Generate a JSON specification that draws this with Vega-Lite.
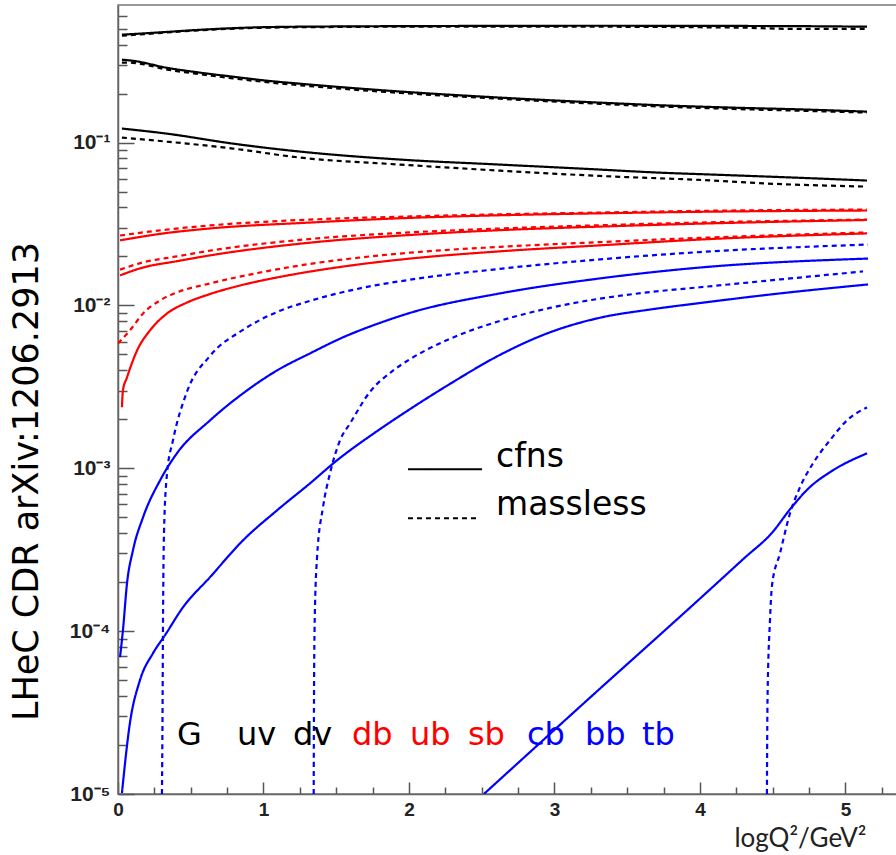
{
  "$schema": "https://vega.github.io/schema/vega-lite/v6.json",
  "width": 779,
  "height": 789,
  "autosize": {"type": "none"},
  "padding": {"left": 118, "top": 5, "right": 0, "bottom": 61},
  "background": "white",
  "config": {
    "view": {"stroke": "#777", "strokeWidth": 1.5},
    "axis": {"grid": false, "labelFlush": false, "labelOverlap": false, "labelBound": false}
  },
  "datasets": {
    "curves": [
      {"pdf": "G", "scheme": "cfns", "x": 0.027, "y": 0.460},
      {"pdf": "G", "scheme": "cfns", "x": 0.3, "y": 0.476},
      {"pdf": "G", "scheme": "cfns", "x": 0.564, "y": 0.493},
      {"pdf": "G", "scheme": "cfns", "x": 1.024, "y": 0.512},
      {"pdf": "G", "scheme": "cfns", "x": 1.5, "y": 0.517},
      {"pdf": "G", "scheme": "cfns", "x": 1.938, "y": 0.519},
      {"pdf": "G", "scheme": "cfns", "x": 2.6, "y": 0.521},
      {"pdf": "G", "scheme": "cfns", "x": 3.313, "y": 0.522},
      {"pdf": "G", "scheme": "cfns", "x": 4.0, "y": 0.521},
      {"pdf": "G", "scheme": "cfns", "x": 4.687, "y": 0.519},
      {"pdf": "G", "scheme": "cfns", "x": 5.148, "y": 0.515},
      {"pdf": "G", "scheme": "massless", "x": 0.027, "y": 0.453},
      {"pdf": "G", "scheme": "massless", "x": 0.3, "y": 0.472},
      {"pdf": "G", "scheme": "massless", "x": 0.564, "y": 0.490},
      {"pdf": "G", "scheme": "massless", "x": 1.024, "y": 0.508},
      {"pdf": "G", "scheme": "massless", "x": 1.5, "y": 0.513},
      {"pdf": "G", "scheme": "massless", "x": 1.938, "y": 0.515},
      {"pdf": "G", "scheme": "massless", "x": 2.6, "y": 0.516},
      {"pdf": "G", "scheme": "massless", "x": 3.313, "y": 0.515},
      {"pdf": "G", "scheme": "massless", "x": 4.0, "y": 0.511},
      {"pdf": "G", "scheme": "massless", "x": 4.3, "y": 0.508},
      {"pdf": "G", "scheme": "massless", "x": 4.6, "y": 0.500},
      {"pdf": "G", "scheme": "massless", "x": 5.148, "y": 0.500},
      {"pdf": "uv", "scheme": "cfns", "x": 0.027, "y": 0.323},
      {"pdf": "uv", "scheme": "cfns", "x": 0.103, "y": 0.318},
      {"pdf": "uv", "scheme": "cfns", "x": 0.337, "y": 0.288},
      {"pdf": "uv", "scheme": "cfns", "x": 0.564, "y": 0.269},
      {"pdf": "uv", "scheme": "cfns", "x": 0.79, "y": 0.254},
      {"pdf": "uv", "scheme": "cfns", "x": 1.024, "y": 0.240},
      {"pdf": "uv", "scheme": "cfns", "x": 1.251, "y": 0.230},
      {"pdf": "uv", "scheme": "cfns", "x": 1.938, "y": 0.206},
      {"pdf": "uv", "scheme": "cfns", "x": 2.625, "y": 0.189},
      {"pdf": "uv", "scheme": "cfns", "x": 3.313, "y": 0.176},
      {"pdf": "uv", "scheme": "cfns", "x": 3.773, "y": 0.169},
      {"pdf": "uv", "scheme": "cfns", "x": 4.227, "y": 0.164},
      {"pdf": "uv", "scheme": "cfns", "x": 4.687, "y": 0.160},
      {"pdf": "uv", "scheme": "cfns", "x": 5.148, "y": 0.155},
      {"pdf": "uv", "scheme": "massless", "x": 0.027, "y": 0.310},
      {"pdf": "uv", "scheme": "massless", "x": 0.103, "y": 0.309},
      {"pdf": "uv", "scheme": "massless", "x": 0.337, "y": 0.281},
      {"pdf": "uv", "scheme": "massless", "x": 0.564, "y": 0.263},
      {"pdf": "uv", "scheme": "massless", "x": 0.79, "y": 0.248},
      {"pdf": "uv", "scheme": "massless", "x": 1.024, "y": 0.235},
      {"pdf": "uv", "scheme": "massless", "x": 1.251, "y": 0.225},
      {"pdf": "uv", "scheme": "massless", "x": 1.938, "y": 0.202},
      {"pdf": "uv", "scheme": "massless", "x": 2.625, "y": 0.186},
      {"pdf": "uv", "scheme": "massless", "x": 3.313, "y": 0.173},
      {"pdf": "uv", "scheme": "massless", "x": 3.773, "y": 0.166},
      {"pdf": "uv", "scheme": "massless", "x": 4.227, "y": 0.161},
      {"pdf": "uv", "scheme": "massless", "x": 4.687, "y": 0.157},
      {"pdf": "uv", "scheme": "massless", "x": 5.148, "y": 0.153},
      {"pdf": "dv", "scheme": "cfns", "x": 0.027, "y": 0.122},
      {"pdf": "dv", "scheme": "cfns", "x": 0.337, "y": 0.1135},
      {"pdf": "dv", "scheme": "cfns", "x": 0.79, "y": 0.0986},
      {"pdf": "dv", "scheme": "cfns", "x": 1.251, "y": 0.0881},
      {"pdf": "dv", "scheme": "cfns", "x": 1.938, "y": 0.0787},
      {"pdf": "dv", "scheme": "cfns", "x": 2.625, "y": 0.0733},
      {"pdf": "dv", "scheme": "cfns", "x": 3.313, "y": 0.0683},
      {"pdf": "dv", "scheme": "cfns", "x": 3.656, "y": 0.0658},
      {"pdf": "dv", "scheme": "cfns", "x": 4.158, "y": 0.0633},
      {"pdf": "dv", "scheme": "cfns", "x": 4.687, "y": 0.0608},
      {"pdf": "dv", "scheme": "cfns", "x": 5.148, "y": 0.0585},
      {"pdf": "dv", "scheme": "massless", "x": 0.027, "y": 0.1074},
      {"pdf": "dv", "scheme": "massless", "x": 0.337, "y": 0.1014},
      {"pdf": "dv", "scheme": "massless", "x": 0.79, "y": 0.0919},
      {"pdf": "dv", "scheme": "massless", "x": 1.251, "y": 0.0809},
      {"pdf": "dv", "scheme": "massless", "x": 1.938, "y": 0.0733},
      {"pdf": "dv", "scheme": "massless", "x": 2.625, "y": 0.0673},
      {"pdf": "dv", "scheme": "massless", "x": 3.313, "y": 0.0624},
      {"pdf": "dv", "scheme": "massless", "x": 4.0, "y": 0.0590},
      {"pdf": "dv", "scheme": "massless", "x": 4.457, "y": 0.0561},
      {"pdf": "dv", "scheme": "massless", "x": 5.148, "y": 0.0537},
      {"pdf": "db", "scheme": "massless", "x": 0.014, "y": 0.0269},
      {"pdf": "db", "scheme": "massless", "x": 0.3, "y": 0.0290},
      {"pdf": "db", "scheme": "massless", "x": 0.632, "y": 0.0310},
      {"pdf": "db", "scheme": "massless", "x": 1.32, "y": 0.0337},
      {"pdf": "db", "scheme": "massless", "x": 2.007, "y": 0.0352},
      {"pdf": "db", "scheme": "massless", "x": 2.625, "y": 0.0363},
      {"pdf": "db", "scheme": "massless", "x": 3.313, "y": 0.0372},
      {"pdf": "db", "scheme": "massless", "x": 4.0, "y": 0.0381},
      {"pdf": "db", "scheme": "massless", "x": 5.148, "y": 0.0388},
      {"pdf": "db", "scheme": "cfns", "x": 0.014, "y": 0.0251},
      {"pdf": "db", "scheme": "cfns", "x": 0.3, "y": 0.0276},
      {"pdf": "db", "scheme": "cfns", "x": 0.632, "y": 0.0297},
      {"pdf": "db", "scheme": "cfns", "x": 1.32, "y": 0.0323},
      {"pdf": "db", "scheme": "cfns", "x": 2.007, "y": 0.0345},
      {"pdf": "db", "scheme": "cfns", "x": 2.625, "y": 0.0358},
      {"pdf": "db", "scheme": "cfns", "x": 3.313, "y": 0.0368},
      {"pdf": "db", "scheme": "cfns", "x": 4.0, "y": 0.0376},
      {"pdf": "db", "scheme": "cfns", "x": 5.148, "y": 0.0383},
      {"pdf": "ub", "scheme": "massless", "x": 0.014, "y": 0.0166},
      {"pdf": "ub", "scheme": "massless", "x": 0.172, "y": 0.0184},
      {"pdf": "ub", "scheme": "massless", "x": 0.405, "y": 0.0200},
      {"pdf": "ub", "scheme": "massless", "x": 0.632, "y": 0.0217},
      {"pdf": "ub", "scheme": "massless", "x": 1.32, "y": 0.0256},
      {"pdf": "ub", "scheme": "massless", "x": 2.007, "y": 0.0281},
      {"pdf": "ub", "scheme": "massless", "x": 2.625, "y": 0.0297},
      {"pdf": "ub", "scheme": "massless", "x": 3.313, "y": 0.0311},
      {"pdf": "ub", "scheme": "massless", "x": 4.0, "y": 0.0323},
      {"pdf": "ub", "scheme": "massless", "x": 5.148, "y": 0.0337},
      {"pdf": "ub", "scheme": "cfns", "x": 0.014, "y": 0.0153},
      {"pdf": "ub", "scheme": "cfns", "x": 0.172, "y": 0.0171},
      {"pdf": "ub", "scheme": "cfns", "x": 0.405, "y": 0.0187},
      {"pdf": "ub", "scheme": "cfns", "x": 0.632, "y": 0.0203},
      {"pdf": "ub", "scheme": "cfns", "x": 1.32, "y": 0.0243},
      {"pdf": "ub", "scheme": "cfns", "x": 2.007, "y": 0.0271},
      {"pdf": "ub", "scheme": "cfns", "x": 2.625, "y": 0.0290},
      {"pdf": "ub", "scheme": "cfns", "x": 3.313, "y": 0.0305},
      {"pdf": "ub", "scheme": "cfns", "x": 4.0, "y": 0.0318},
      {"pdf": "ub", "scheme": "cfns", "x": 5.148, "y": 0.0335},
      {"pdf": "sb", "scheme": "massless", "x": 0.0, "y": 0.00585},
      {"pdf": "sb", "scheme": "massless", "x": 0.082, "y": 0.00703},
      {"pdf": "sb", "scheme": "massless", "x": 0.172, "y": 0.00893},
      {"pdf": "sb", "scheme": "massless", "x": 0.289, "y": 0.01074},
      {"pdf": "sb", "scheme": "massless", "x": 0.405, "y": 0.01202},
      {"pdf": "sb", "scheme": "massless", "x": 0.632, "y": 0.01365},
      {"pdf": "sb", "scheme": "massless", "x": 0.976, "y": 0.01593},
      {"pdf": "sb", "scheme": "massless", "x": 1.32, "y": 0.01800},
      {"pdf": "sb", "scheme": "massless", "x": 1.663, "y": 0.0197},
      {"pdf": "sb", "scheme": "massless", "x": 2.007, "y": 0.0211},
      {"pdf": "sb", "scheme": "massless", "x": 2.625, "y": 0.0229},
      {"pdf": "sb", "scheme": "massless", "x": 3.313, "y": 0.0245},
      {"pdf": "sb", "scheme": "massless", "x": 4.0, "y": 0.0260},
      {"pdf": "sb", "scheme": "massless", "x": 5.148, "y": 0.0281},
      {"pdf": "sb", "scheme": "cfns", "x": 0.027, "y": 0.00237},
      {"pdf": "sb", "scheme": "cfns", "x": 0.034, "y": 0.00301},
      {"pdf": "sb", "scheme": "cfns", "x": 0.062, "y": 0.00362},
      {"pdf": "sb", "scheme": "cfns", "x": 0.131, "y": 0.00529},
      {"pdf": "sb", "scheme": "cfns", "x": 0.22, "y": 0.00703},
      {"pdf": "sb", "scheme": "cfns", "x": 0.337, "y": 0.00893},
      {"pdf": "sb", "scheme": "cfns", "x": 0.474, "y": 0.01042},
      {"pdf": "sb", "scheme": "cfns", "x": 0.632, "y": 0.01175},
      {"pdf": "sb", "scheme": "cfns", "x": 0.859, "y": 0.01340},
      {"pdf": "sb", "scheme": "cfns", "x": 1.093, "y": 0.01486},
      {"pdf": "sb", "scheme": "cfns", "x": 1.32, "y": 0.01615},
      {"pdf": "sb", "scheme": "cfns", "x": 1.663, "y": 0.01790},
      {"pdf": "sb", "scheme": "cfns", "x": 2.007, "y": 0.01940},
      {"pdf": "sb", "scheme": "cfns", "x": 2.625, "y": 0.0215},
      {"pdf": "sb", "scheme": "cfns", "x": 3.313, "y": 0.0234},
      {"pdf": "sb", "scheme": "cfns", "x": 4.0, "y": 0.0254},
      {"pdf": "sb", "scheme": "cfns", "x": 5.148, "y": 0.0277},
      {"pdf": "cb", "scheme": "massless", "x": 0.302, "y": 0.00001},
      {"pdf": "cb", "scheme": "massless", "x": 0.306, "y": 0.00003},
      {"pdf": "cb", "scheme": "massless", "x": 0.309, "y": 0.0001014},
      {"pdf": "cb", "scheme": "massless", "x": 0.316, "y": 0.000399},
      {"pdf": "cb", "scheme": "massless", "x": 0.337, "y": 0.000931},
      {"pdf": "cb", "scheme": "massless", "x": 0.378, "y": 0.001486},
      {"pdf": "cb", "scheme": "massless", "x": 0.474, "y": 0.00295},
      {"pdf": "cb", "scheme": "massless", "x": 0.632, "y": 0.0049},
      {"pdf": "cb", "scheme": "massless", "x": 0.859, "y": 0.00708},
      {"pdf": "cb", "scheme": "massless", "x": 1.093, "y": 0.00912},
      {"pdf": "cb", "scheme": "massless", "x": 1.32, "y": 0.01067},
      {"pdf": "cb", "scheme": "massless", "x": 1.663, "y": 0.01274},
      {"pdf": "cb", "scheme": "massless", "x": 2.007, "y": 0.01439},
      {"pdf": "cb", "scheme": "massless", "x": 2.625, "y": 0.01679},
      {"pdf": "cb", "scheme": "massless", "x": 3.313, "y": 0.01919},
      {"pdf": "cb", "scheme": "massless", "x": 4.0, "y": 0.02128},
      {"pdf": "cb", "scheme": "massless", "x": 5.155, "y": 0.02366},
      {"pdf": "cb", "scheme": "cfns", "x": 0.014, "y": 0.0000692},
      {"pdf": "cb", "scheme": "cfns", "x": 0.034, "y": 0.0001014},
      {"pdf": "cb", "scheme": "cfns", "x": 0.062, "y": 0.0001968},
      {"pdf": "cb", "scheme": "cfns", "x": 0.103, "y": 0.000314},
      {"pdf": "cb", "scheme": "cfns", "x": 0.172, "y": 0.0005},
      {"pdf": "cb", "scheme": "cfns", "x": 0.289, "y": 0.000843},
      {"pdf": "cb", "scheme": "cfns", "x": 0.405, "y": 0.001236},
      {"pdf": "cb", "scheme": "cfns", "x": 0.632, "y": 0.001968},
      {"pdf": "cb", "scheme": "cfns", "x": 0.859, "y": 0.002884},
      {"pdf": "cb", "scheme": "cfns", "x": 1.093, "y": 0.00399},
      {"pdf": "cb", "scheme": "cfns", "x": 1.32, "y": 0.00508},
      {"pdf": "cb", "scheme": "cfns", "x": 1.546, "y": 0.00637},
      {"pdf": "cb", "scheme": "cfns", "x": 1.78, "y": 0.00770},
      {"pdf": "cb", "scheme": "cfns", "x": 2.007, "y": 0.00900},
      {"pdf": "cb", "scheme": "cfns", "x": 2.625, "y": 0.01186},
      {"pdf": "cb", "scheme": "cfns", "x": 3.313, "y": 0.01466},
      {"pdf": "cb", "scheme": "cfns", "x": 4.0, "y": 0.0171},
      {"pdf": "cb", "scheme": "cfns", "x": 5.155, "y": 0.01941},
      {"pdf": "bb", "scheme": "cfns", "x": 0.027, "y": 0.00001014},
      {"pdf": "bb", "scheme": "cfns", "x": 0.082, "y": 0.0000273},
      {"pdf": "bb", "scheme": "cfns", "x": 0.151, "y": 0.00005},
      {"pdf": "bb", "scheme": "cfns", "x": 0.241, "y": 0.0000733},
      {"pdf": "bb", "scheme": "cfns", "x": 0.323, "y": 0.0000944},
      {"pdf": "bb", "scheme": "cfns", "x": 0.447, "y": 0.0001403},
      {"pdf": "bb", "scheme": "cfns", "x": 0.632, "y": 0.0002143},
      {"pdf": "bb", "scheme": "cfns", "x": 0.859, "y": 0.000361},
      {"pdf": "bb", "scheme": "cfns", "x": 1.093, "y": 0.000552},
      {"pdf": "bb", "scheme": "cfns", "x": 1.32, "y": 0.000809},
      {"pdf": "bb", "scheme": "cfns", "x": 1.505, "y": 0.001119},
      {"pdf": "bb", "scheme": "cfns", "x": 1.78, "y": 0.00169},
      {"pdf": "bb", "scheme": "cfns", "x": 2.007, "y": 0.00231},
      {"pdf": "bb", "scheme": "cfns", "x": 2.282, "y": 0.0033},
      {"pdf": "bb", "scheme": "cfns", "x": 2.625, "y": 0.00497},
      {"pdf": "bb", "scheme": "cfns", "x": 2.969, "y": 0.00684},
      {"pdf": "bb", "scheme": "cfns", "x": 3.313, "y": 0.00841},
      {"pdf": "bb", "scheme": "cfns", "x": 3.656, "y": 0.00944},
      {"pdf": "bb", "scheme": "cfns", "x": 4.0, "y": 0.01035},
      {"pdf": "bb", "scheme": "cfns", "x": 4.55, "y": 0.01186},
      {"pdf": "bb", "scheme": "cfns", "x": 5.155, "y": 0.01346},
      {"pdf": "bb", "scheme": "massless", "x": 1.345, "y": 0.00001},
      {"pdf": "bb", "scheme": "massless", "x": 1.347, "y": 0.0000378},
      {"pdf": "bb", "scheme": "massless", "x": 1.352, "y": 0.0001167},
      {"pdf": "bb", "scheme": "massless", "x": 1.368, "y": 0.000284},
      {"pdf": "bb", "scheme": "massless", "x": 1.409, "y": 0.000577},
      {"pdf": "bb", "scheme": "massless", "x": 1.457, "y": 0.000931},
      {"pdf": "bb", "scheme": "massless", "x": 1.526, "y": 0.001486},
      {"pdf": "bb", "scheme": "massless", "x": 1.595, "y": 0.001888},
      {"pdf": "bb", "scheme": "massless", "x": 1.732, "y": 0.00295},
      {"pdf": "bb", "scheme": "massless", "x": 1.89, "y": 0.00398},
      {"pdf": "bb", "scheme": "massless", "x": 2.007, "y": 0.00468},
      {"pdf": "bb", "scheme": "massless", "x": 2.282, "y": 0.00624},
      {"pdf": "bb", "scheme": "massless", "x": 2.625, "y": 0.00804},
      {"pdf": "bb", "scheme": "massless", "x": 2.969, "y": 0.00966},
      {"pdf": "bb", "scheme": "massless", "x": 3.313, "y": 0.01102},
      {"pdf": "bb", "scheme": "massless", "x": 3.656, "y": 0.01208},
      {"pdf": "bb", "scheme": "massless", "x": 4.0, "y": 0.01294},
      {"pdf": "bb", "scheme": "massless", "x": 4.55, "y": 0.01445},
      {"pdf": "bb", "scheme": "massless", "x": 5.12, "y": 0.01618},
      {"pdf": "tb", "scheme": "cfns", "x": 2.515, "y": 0.00001},
      {"pdf": "tb", "scheme": "cfns", "x": 3.25, "y": 0.0000395},
      {"pdf": "tb", "scheme": "cfns", "x": 4.0, "y": 0.0001585},
      {"pdf": "tb", "scheme": "cfns", "x": 4.3, "y": 0.0002786},
      {"pdf": "tb", "scheme": "cfns", "x": 4.5, "y": 0.000407},
      {"pdf": "tb", "scheme": "cfns", "x": 4.62, "y": 0.000562},
      {"pdf": "tb", "scheme": "cfns", "x": 4.75, "y": 0.000759},
      {"pdf": "tb", "scheme": "cfns", "x": 4.9, "y": 0.000955},
      {"pdf": "tb", "scheme": "cfns", "x": 5.148, "y": 0.001236},
      {"pdf": "tb", "scheme": "massless", "x": 4.46, "y": 0.00001},
      {"pdf": "tb", "scheme": "massless", "x": 4.464, "y": 0.0000378},
      {"pdf": "tb", "scheme": "massless", "x": 4.481, "y": 0.0001167},
      {"pdf": "tb", "scheme": "massless", "x": 4.495, "y": 0.0001914},
      {"pdf": "tb", "scheme": "massless", "x": 4.55, "y": 0.000301},
      {"pdf": "tb", "scheme": "massless", "x": 4.619, "y": 0.00053},
      {"pdf": "tb", "scheme": "massless", "x": 4.687, "y": 0.000764},
      {"pdf": "tb", "scheme": "massless", "x": 4.777, "y": 0.001074},
      {"pdf": "tb", "scheme": "massless", "x": 4.893, "y": 0.001486},
      {"pdf": "tb", "scheme": "massless", "x": 5.01, "y": 0.001968},
      {"pdf": "tb", "scheme": "massless", "x": 5.148, "y": 0.002366}
    ],
    "legendLines": [
      {"scheme": "cfns", "x": 1.993, "y": 0.000986},
      {"scheme": "cfns", "x": 2.502, "y": 0.000986},
      {"scheme": "massless", "x": 1.993, "y": 0.000493},
      {"scheme": "massless", "x": 2.467, "y": 0.000493}
    ],
    "legendText": [
      {"label": "cfns", "x": 2.598, "y": 0.001014},
      {"label": "massless", "x": 2.598, "y": 0.000515}
    ],
    "pdfLabels": [
      {"pdf": "G", "x": 0.405, "y": 0.00002},
      {"pdf": "uv", "x": 0.818, "y": 0.00002},
      {"pdf": "dv", "x": 1.203, "y": 0.00002},
      {"pdf": "db", "x": 1.608, "y": 0.00002},
      {"pdf": "ub", "x": 2.007, "y": 0.00002},
      {"pdf": "sb", "x": 2.405, "y": 0.00002},
      {"pdf": "cb", "x": 2.811, "y": 0.00002},
      {"pdf": "bb", "x": 3.21, "y": 0.00002},
      {"pdf": "tb", "x": 3.601, "y": 0.00002}
    ]
  },
  "encoding": {
    "x": {
      "field": "x", "type": "quantitative",
      "scale": {"domain": [0, 5.354], "nice": false, "zero": false},
      "axis": {
        "title": "logQ²/GeV²",
        "titleFont": "Lato", "titleFontSize": 26, "titleFontWeight": "normal", "titleColor": "#222",
        "titleX": 748, "titleY": 52, "titleAlign": "right", "titleBaseline": "alphabetic", "titleAngle": 0,
        "values": [0, 0.25, 0.5, 0.75, 1, 1.25, 1.5, 1.75, 2, 2.25, 2.5, 2.75, 3, 3.25, 3.5, 3.75, 4, 4.25, 4.5, 4.75, 5, 5.25],
        "labelExpr": "datum.value == round(datum.value) ? format(datum.value, 'd') : ''",
        "labelFont": "Liberation Sans", "labelFontSize": 19, "labelFontWeight": "bold", "labelColor": "#222",
        "labelPadding": 18,
        "tickSize": {"condition": {"test": "datum.value == round(datum.value)", "value": -12}, "value": -7},
        "tickColor": "#555", "tickWidth": 1.5,
        "domainColor": "#666", "domainWidth": 1.5
      }
    },
    "y": {
      "field": "y", "type": "quantitative",
      "scale": {"type": "log", "domain": [0.00001, 0.7], "nice": false},
      "axis": {
        "title": "LHeC CDR arXiv:1206.2913",
        "titleFont": "DejaVu Sans", "titleFontSize": 35, "titleFontWeight": "normal", "titleColor": "black",
        "titleX": -81, "titleY": 476, "titleAlign": "center", "titleBaseline": "alphabetic", "titleAngle": -90,
        "values": [0.00001, 0.00002, 0.00003, 0.00004, 0.00005, 0.00006, 0.00007, 0.00008, 0.00009,
                   0.0001, 0.0002, 0.0003, 0.0004, 0.0005, 0.0006, 0.0007, 0.0008, 0.0009,
                   0.001, 0.002, 0.003, 0.004, 0.005, 0.006, 0.007, 0.008, 0.009,
                   0.01, 0.02, 0.03, 0.04, 0.05, 0.06, 0.07, 0.08, 0.09,
                   0.1, 0.2, 0.3, 0.4, 0.5, 0.6],
        "labelExpr": "abs(log(datum.value)/LN10 - round(log(datum.value)/LN10)) < 0.001 ? '10' + ['⁻⁵','⁻⁴','⁻³','⁻²','⁻¹'][round(log(datum.value)/LN10) + 5] : ''",
        "labelFont": "Liberation Sans", "labelFontSize": 21, "labelFontWeight": "bold", "labelColor": "#222",
        "labelPadding": 24,
        "tickSize": {"condition": {"test": "abs(log(datum.value)/LN10 - round(log(datum.value)/LN10)) < 0.001", "value": -16}, "value": -9},
        "tickColor": "#555", "tickWidth": 1.5,
        "domainColor": "#666", "domainWidth": 1.5
      }
    }
  },
  "layer": [
    {
      "data": {"name": "curves"},
      "mark": {"type": "line", "strokeWidth": 2.2, "clip": true, "interpolate": "monotone"},
      "encoding": {
        "color": {
          "field": "pdf", "type": "nominal", "legend": null,
          "scale": {"domain": ["G", "uv", "dv", "db", "ub", "sb", "cb", "bb", "tb"],
                    "range": ["#000000", "#000000", "#000000", "#ff0000", "#ff0000", "#ff0000", "#0000ff", "#0000ff", "#0000ff"]}
        },
        "strokeDash": {
          "field": "scheme", "type": "nominal", "legend": null,
          "scale": {"domain": ["cfns", "massless"], "range": [[1, 0], [5, 4]]}
        },
        "detail": {"field": "scheme"}
      }
    },
    {
      "data": {"name": "legendLines"},
      "mark": {"type": "line", "strokeWidth": 2, "color": "#000000"},
      "encoding": {
        "strokeDash": {"field": "scheme", "type": "nominal", "legend": null},
        "detail": {"field": "scheme"}
      }
    },
    {
      "data": {"name": "legendText"},
      "mark": {"type": "text", "align": "left", "baseline": "alphabetic", "font": "DejaVu Sans", "fontSize": 33, "color": "#000000"},
      "encoding": {"text": {"field": "label"}}
    },
    {
      "data": {"name": "pdfLabels"},
      "mark": {"type": "text", "align": "left", "baseline": "alphabetic", "font": "DejaVu Sans", "fontSize": 32},
      "encoding": {
        "text": {"field": "pdf"},
        "color": {"field": "pdf", "type": "nominal", "legend": null}
      }
    }
  ]
}
